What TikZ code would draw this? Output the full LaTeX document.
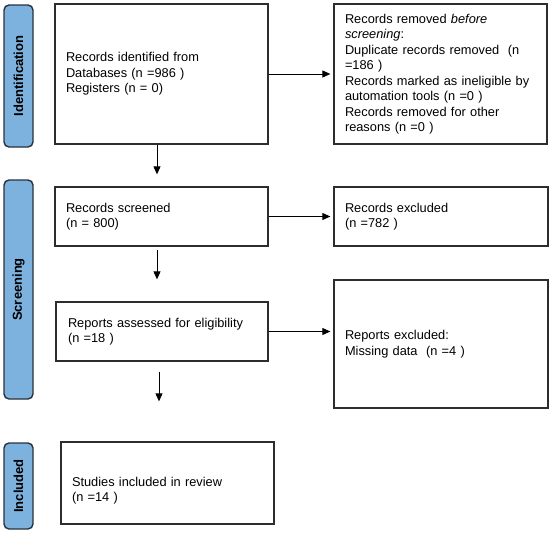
\documentclass[tikz,border=0pt]{standalone}
\usepackage{fontspec}
\setmainfont{Liberation Sans}
\usetikzlibrary{arrows.meta}
\definecolor{barblue}{RGB}{126,178,222}
\definecolor{bardark}{RGB}{40,50,60}
\definecolor{boxline}{RGB}{45,45,45}
\tikzset{
  flowbox/.style={draw=boxline, line width=1.3pt, rectangle, align=left,
    inner xsep=11pt, inner ysep=0pt,
    font=\fontsize{12.8}{15.5}\selectfont},
  phasebar/.style={draw=bardark, fill=barblue, line width=1.4pt, rounded corners=5pt,
    minimum width=29pt, inner sep=0pt, rotate=90,
    font=\fontsize{13}{15}\selectfont\bfseries},
  arr/.style={draw=black, line width=0.9pt, -{Triangle[length=8pt,width=7pt]}}
}
\begin{document}
\begin{tikzpicture}[x=1pt,y=-1pt]
\useasboundingbox (0,0) rectangle (550,536);
% phase bars
\node[phasebar, minimum width=142pt, minimum height=29pt] (pid) at (18.5,76) {Identification};
\node[phasebar, minimum width=219pt, minimum height=29pt] (psc) at (18.5,289.5) {Screening};
\node[phasebar, minimum width=86pt, minimum height=29pt] (pin) at (18.5,486) {Included};
% boxes
\node[flowbox, text width=191pt, minimum height=140pt] (b1) at (161.5,74)
  {Records identified from\\Databases (n =986 )\\Registers (n = 0)};
\node[flowbox, text width=191pt, minimum height=140pt] (r1) at (440.5,74)
  {Records removed \textit{before}\\\textit{screening}:\\Duplicate records removed~~(n\\=186 )\\Records marked as ineligible by\\automation tools (n =0 )\\Records removed for other\\reasons (n =0 )};
\node[flowbox, text width=191pt, minimum height=59pt] (b2) at (161.5,216.5)
  {Records screened\\(n = 800)};
\node[flowbox, text width=192pt, minimum height=59pt] (r2) at (441,216.5)
  {Records excluded\\(n =782 )};
\node[flowbox, text width=188pt, inner xsep=12pt, minimum height=59pt] (b3) at (162,331.5)
  {Reports assessed for eligibility\\(n =18 )};
\node[flowbox, text width=192pt, minimum height=128pt] (r3) at (441,344)
  {Reports excluded:\\Missing data~~(n =4 )};
\node[flowbox, text width=191pt, minimum height=82pt] (b4) at (167.5,483)
  {\rule{0pt}{25pt}Studies included in review\\(n =14 )};
% connectors
\draw[arr, shorten >=3pt] (b1.east) -- (r1.west);
\draw[arr, shorten >=3pt] (b2.east) -- (b2.east -| r2.west);
\draw[arr, shorten >=3pt] (b3.east) -- (b3.east -| r3.west);
\draw[arr, shorten >=12pt] ([xshift=-4.5pt]b1.south) -- ([xshift=-4.5pt]b1.south |- b2.north);
\draw[arr, shorten <=3pt, shorten >=22pt] ([xshift=-4.5pt]b2.south) -- ([xshift=-4.5pt]b2.south |- b3.north);
\draw[arr, shorten <=10pt, shorten >=40pt] ([xshift=-3pt]b3.south) -- ([xshift=-3pt]b3.south |- b4.north);
\end{tikzpicture}
\end{document}
